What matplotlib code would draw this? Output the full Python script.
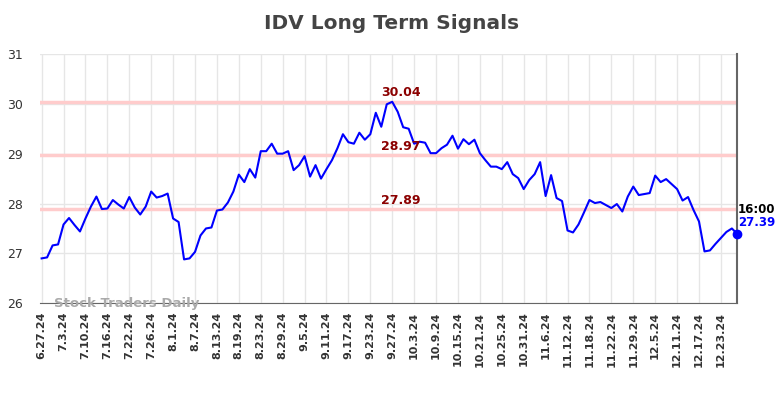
import matplotlib.pyplot as plt
import matplotlib.transforms as mtransforms
import numpy as np
import pandas as pd

# trading days 6.27.24 - 12.27.24
holidays = ['2024-07-04', '2024-09-02', '2024-11-28', '2024-12-25']
dates = pd.bdate_range('2024-06-27', '2024-12-27', freq='C', holidays=holidays)

prices = [
    26.90, 26.92, 27.16, 27.18, 27.58, 27.71, 27.57, 27.44, 27.70, 27.94,
    28.14, 27.89, 27.90, 28.07, 27.98, 27.90, 28.13, 27.92, 27.78, 27.94,
    28.24, 28.12, 28.15, 28.20, 27.70, 27.63, 26.88, 26.90, 27.03, 27.36,
    27.50, 27.52, 27.86, 27.88, 28.02, 28.24, 28.58, 28.43, 28.69, 28.52,
    29.05, 29.05, 29.20, 29.00, 29.00, 29.05, 28.67, 28.77, 28.95, 28.54,
    28.77, 28.50, 28.69, 28.87, 29.11, 29.39, 29.23, 29.20, 29.42, 29.28,
    29.39, 29.82, 29.54, 29.99, 30.04, 29.84, 29.53, 29.50, 29.20, 29.24,
    29.22, 29.01, 29.01, 29.11, 29.18, 29.36, 29.10, 29.29, 29.19, 29.28,
    29.01, 28.87, 28.74, 28.74, 28.69, 28.83, 28.59, 28.51, 28.29, 28.47,
    28.59, 28.83, 28.15, 28.57, 28.11, 28.05, 27.46, 27.42, 27.58, 27.82,
    28.07, 28.01, 28.03, 27.97, 27.91, 27.99, 27.84, 28.14, 28.34, 28.17,
    28.19, 28.21, 28.56, 28.43, 28.49, 28.39, 28.29, 28.06, 28.13, 27.87,
    27.64, 27.04, 27.06, 27.19, 27.31, 27.43, 27.50, 27.39,
]
levels = [30.04, 28.97, 27.89]
last_time = '16:00'

x = np.arange(len(prices))
tick_idx = x[::4]
tick_labels = [f'{d.month}.{d.day}.{d.strftime("%y")}' for d in dates[::4]]

fig = plt.figure(figsize=(7.84, 3.98), dpi=100)
ax = fig.add_axes([0.051, 0.238, 0.8895, 0.6265])

for lv in levels:
    ax.axhline(lv, color='#ffcccc', linewidth=2.5, zorder=1)
    ax.text(0.517, lv + 0.05, f'{lv:.2f}', transform=mtransforms.blended_transform_factory(ax.transAxes, ax.transData),
            ha='center', va='bottom', color='#8b0000', fontsize=9, fontweight='bold', zorder=4)

ax.plot(x, prices, color='#0000ff', linewidth=1.5, zorder=3)
ax.plot(x[-1], prices[-1], 'o', color='#0000ff', markersize=6, zorder=4, clip_on=False)

ax.text(x[-1] + 0.1, prices[-1] + 0.36, last_time, ha='left', va='bottom', fontsize=8.5, fontweight='bold', color='black')
ax.text(x[-1] + 0.1, prices[-1] + 0.09, f'{prices[-1]:.2f}', ha='left', va='bottom', fontsize=8.5, fontweight='bold', color='#0000ff')

ax.set_xlim(-0.3, len(prices) - 1)
ax.set_ylim(26, 31)
ax.set_yticks([26, 27, 28, 29, 30, 31])
ax.set_xticks(tick_idx)
ax.set_xticklabels(tick_labels, rotation=90, fontsize=8, fontweight='bold', color='#333333')
ax.tick_params(axis='y', labelsize=9, colors='#333333', length=0, pad=12)
ax.tick_params(axis='x', length=0, pad=6)

ax.grid(True, color='#e6e6e6', linewidth=1, zorder=0)
ax.set_axisbelow(True)
for s in ['top', 'left']:
    ax.spines[s].set_visible(False)
ax.spines['bottom'].set_color('#666666')
ax.spines['right'].set_color('#666666')
ax.spines['right'].set_linewidth(1.5)

ax.text(0.02, 0.0, 'Stock Traders Daily', transform=ax.transAxes, ha='left', va='center',
        fontsize=9.5, fontweight='bold', color='#aaaaaa', zorder=5)

fig.suptitle('IDV Long Term Signals', x=0.5, y=0.965, fontsize=14.5, fontweight='bold', color='#444444')

fig.savefig('out.png', dpi=100)
